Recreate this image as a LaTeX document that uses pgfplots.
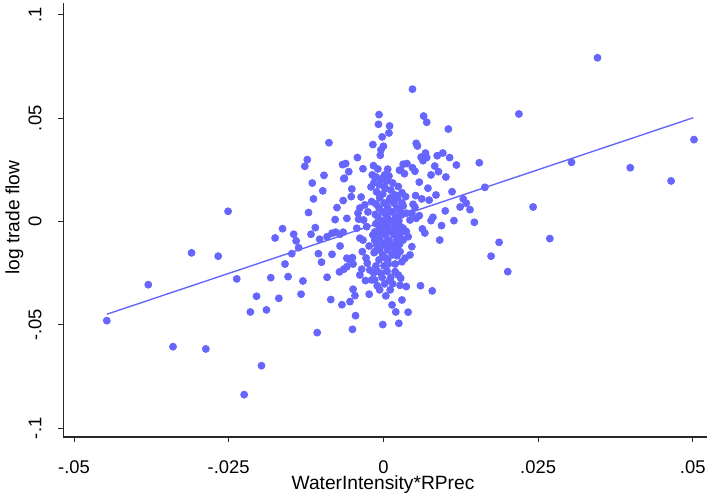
\documentclass[border=0pt]{standalone}
\usepackage{pgfplots}
\pgfplotsset{compat=1.18}
\usepackage{fontspec}
\setmainfont{Liberation Sans}
\definecolor{statablue}{RGB}{102,102,255}
\definecolor{axisgray}{RGB}{40,40,40}

\begin{document}
\begin{tikzpicture}
\path[use as bounding box] (-31.75pt,-30pt) rectangle (321.75pt,218.5pt);
\begin{axis}[
    at={(0,0)}, anchor=south west,
    scale only axis,
    width=321.75pt, height=217pt,
    xmin=-0.0517, xmax=0.0523,
    ymin=-0.1042, ymax=0.1058,
    axis x line*=bottom, axis y line*=left,
    axis line style={axisgray, line width=0.6pt},
    xtick={-0.05,-0.025,0,0.025,0.05},
    xticklabels={-.05,-.025,0,.025,.05},
    ytick={-0.1,-0.05,0,0.05,0.1},
    yticklabels={-.1,-.05,0,.05,.1},
    xtick pos=left, ytick pos=left,
    tick align=outside,
    major tick length=2.5pt,
    tick style={axisgray, line width=0.5pt},
    xticklabel style={anchor=center, yshift=-12.5pt, font=\fontsize{9.2}{11}\selectfont},
    yticklabel style={rotate=90, anchor=center, yshift=11.75pt, font=\fontsize{9.2}{11}\selectfont},
    xlabel={WaterIntensity*RPrec},
    ylabel={log trade flow},
    xlabel style={at={(axis description cs:0.4965,0)}, anchor=center, yshift=-24pt, font=\fontsize{9.6}{11}\selectfont},
    ylabel style={at={(axis description cs:0,0.505)}, anchor=center, yshift=24.5pt, font=\fontsize{9.6}{11}\selectfont},
    clip=false,
]
\addplot[only marks, mark=*, mark size=1.75pt, color=statablue] coordinates {
(-0.0251,0.0050) (-0.0163,-0.0034) (-0.0175,-0.0079) (-0.0310,-0.0151)
(-0.0267,-0.0167) (-0.0159,-0.0205) (-0.0380,-0.0305) (-0.0237,-0.0277)
(-0.0182,-0.0271) (-0.0154,-0.0266) (-0.0205,-0.0361) (-0.0169,-0.0371)
(-0.0215,-0.0437) (-0.0189,-0.0427) (-0.0447,-0.0479) (-0.0340,-0.0605)
(-0.0287,-0.0616) (-0.0197,-0.0697) (-0.0225,-0.0837)
(0.0346,0.0793) (0.0219,0.0521) (0.0502,0.0397) (0.0155,0.0285)
(0.0304,0.0287) (0.0399,0.0261) (0.0465,0.0197) (0.0164,0.0166)
(0.0242,0.0071) (0.0129,0.0110) (0.0134,0.0089) (0.0124,0.0071)
(0.0140,0.0058) (0.0147,-0.0003) (0.0269,-0.0082) (0.0187,-0.0100)
(0.0174,-0.0167) (0.0201,-0.0242)
(-0.0088,0.0382) (-0.0123,0.0300) (-0.0127,0.0268) (-0.0096,0.0224)
(-0.0066,0.0276) (-0.0064,0.0208)
(-0.0007,0.0518) (-0.0008,0.0471) (0.0010,0.0463) (0.0009,0.0429)
(-0.0002,0.0410) (-0.0017,0.0373) (0.0000,0.0365) (-0.0004,0.0347)
(-0.0005,0.0321) (-0.0042,0.0310) (-0.0061,0.0281) (-0.0056,0.0242)
(-0.0033,0.0256) (-0.0016,0.0271) (-0.0009,0.0255) (0.0007,0.0254)
(0.0026,0.0249) (-0.0018,0.0226) (0.0002,0.0226) (0.0007,0.0211)
(-0.0001,0.0202) (-0.0063,0.0210) (0.0032,0.0278)
(0.0047,0.0641) (0.0065,0.0511) (0.0070,0.0481) (0.0105,0.0448)
(0.0053,0.0379) (0.0055,0.0366) (0.0068,0.0332) (0.0061,0.0312)
(0.0070,0.0310) (0.0064,0.0295) (0.0087,0.0319) (0.0096,0.0332)
(0.0107,0.0310) (0.0038,0.0281) (0.0047,0.0261) (0.0051,0.0244)
(0.0083,0.0269) (0.0118,0.0274) (0.0089,0.0242) (0.0028,0.0249)
(0.0034,0.0232) (0.0077,0.0226) (0.0101,0.0216)
(-0.0115,0.0187) (-0.0098,0.0149) (-0.0113,0.0110) (-0.0065,0.0102)
(-0.0075,0.0068) (-0.0121,0.0044) (-0.0078,0.0010) (-0.0110,-0.0029)
(-0.0145,-0.0061) (-0.0117,-0.0061) (-0.0141,-0.0093) (-0.0103,-0.0085)
(-0.0091,-0.0073) (-0.0083,-0.0056) (-0.0077,-0.0051) (-0.0070,-0.0061)
(-0.0065,-0.0051) (-0.0137,-0.0126) (-0.0148,-0.0155) (-0.0105,-0.0155)
(-0.0083,-0.0158) (-0.0070,-0.0118) (-0.0100,-0.0196)
(-0.0051,0.0158) (-0.0052,0.0121) (-0.0036,0.0119) (-0.0019,0.0097)
(-0.0059,0.0016) (-0.0041,0.0041) (-0.0040,0.0012) (-0.0038,0.0066)
(-0.0043,-0.0032) (-0.0038,-0.0080) (-0.0027,-0.0024) (-0.0017,-0.0064)
(-0.0014,-0.0090) (-0.0034,-0.0145) (-0.0014,-0.0145) (-0.0050,-0.0174)
(-0.0059,-0.0177)
(0.0058,0.0191) (0.0072,0.0162) (0.0085,0.0129) (0.0111,0.0145)
(0.0036,0.0121) (0.0052,0.0126) (0.0062,0.0110) (0.0074,0.0104)
(0.0048,0.0084) (0.0051,0.0070) (0.0032,0.0076) (0.0029,0.0032)
(0.0037,0.0041) (0.0058,0.0029) (0.0046,0.0041) (0.0053,0.0016)
(0.0043,0.0008) (0.0100,0.0052) (0.0080,0.0021) (0.0077,0.0005)
(0.0114,0.0005) (0.0094,-0.0019) (0.0063,-0.0035) (0.0067,-0.0055)
(0.0091,-0.0089)
(0.0032,-0.0032) (0.0037,-0.0048) (0.0027,-0.0061) (0.0040,-0.0073)
(0.0032,-0.0089) (0.0046,-0.0121) (0.0043,-0.0161) (0.0035,-0.0177)
(0.0027,-0.0145)
(-0.0130,-0.0287) (-0.0091,-0.0269) (-0.0071,-0.0243) (-0.0064,-0.0230)
(-0.0133,-0.0351) (-0.0085,-0.0377) (-0.0067,-0.0402) (-0.0107,-0.0537)
(-0.0054,-0.0185) (-0.0049,-0.0205) (-0.0059,-0.0218) (-0.0026,-0.0201)
(-0.0035,-0.0230) (-0.0022,-0.0234) (-0.0016,-0.0247) (-0.0004,-0.0250)
(-0.0038,-0.0258) (-0.0029,-0.0285) (-0.0019,-0.0282) (-0.0014,-0.0282)
(0.0008,-0.0205) (0.0019,-0.0205) (0.0030,-0.0194) (0.0019,-0.0242)
(0.0024,-0.0258) (0.0012,-0.0269) (0.0028,-0.0274) (0.0027,-0.0308)
(-0.0049,-0.0327) (-0.0046,-0.0358) (-0.0023,-0.0351) (-0.0054,-0.0387)
(0.0030,-0.0379) (-0.0045,-0.0455) (-0.0001,-0.0498) (0.0025,-0.0492)
(-0.0050,-0.0521)
(0.0037,-0.0314) (0.0060,-0.0310) (0.0079,-0.0335) (0.0040,-0.0438)
(-0.0012,0.0216) (-0.0004,0.0207) (0.0006,0.0197) (0.0015,0.0187)
(-0.0007,0.0178) (0.0002,0.0168) (0.0012,0.0153) (-0.0011,0.0144)
(-0.0001,0.0134) (0.0019,0.0129) (-0.0020,0.0168) (0.0009,0.0221)
(-0.0006,0.0115) (0.0011,0.0115) (0.0023,0.0115)
(0.0001,0.0090) (0.0017,0.0090) (0.0030,0.0090)
(-0.0007,0.0066) (0.0007,0.0066) (0.0022,0.0066)
(-0.0001,0.0047) (0.0014,0.0047) (0.0027,0.0047)
(-0.0009,0.0023) (0.0006,0.0023) (0.0020,0.0023)
(-0.0002,0.0003) (0.0012,0.0003) (0.0025,0.0003)
(0.0004,-0.0021) (0.0019,-0.0021) (-0.0007,-0.0021)
(-0.0004,-0.0040) (0.0011,-0.0040) (0.0023,-0.0040)
(0.0002,-0.0064) (0.0017,-0.0064) (-0.0009,-0.0064)
(-0.0006,-0.0089) (0.0009,-0.0089) (0.0022,-0.0089)
(0.0001,-0.0113) (0.0015,-0.0113) (-0.0011,-0.0113)
(0.0007,-0.0137) (-0.0006,-0.0137) (0.0020,-0.0137)
(-0.0001,-0.0161) (0.0014,-0.0161)
(-0.0007,-0.0185) (0.0007,-0.0185)
(0.0001,-0.0214) (-0.0012,-0.0214)
(0.0002,-0.0301) (0.0015,-0.0301)
(-0.0006,-0.0330) (0.0011,-0.0330)
(0.0004,-0.0359) (0.0014,-0.0403) (0.0020,-0.0437)
(-0.0030,0.0081) (-0.0025,0.0047) (-0.0032,0.0008) (-0.0023,-0.0118)
(-0.0028,-0.0176) (-0.0033,-0.0089)
(0.0003,0.0160) (-0.0015,0.0190) (0.0024,0.0170) (0.0030,0.0140)
(-0.0012,0.0085) (0.0009,0.0100) (0.0026,0.0060) (-0.0013,0.0035)
(0.0004,0.0035) (0.0019,0.0012) (-0.0012,-0.0010) (0.0008,-0.0008)
(0.0028,-0.0025) (-0.0014,-0.0050) (0.0006,-0.0052) (0.0025,-0.0075)
(-0.0012,-0.0075) (0.0004,-0.0100) (0.0026,-0.0110) (-0.0015,-0.0150)
(0.0010,-0.0125) (0.0003,-0.0175) (0.0022,-0.0165) (-0.0010,-0.0240)
(0.0006,-0.0240) (-0.0002,-0.0270) (0.0010,-0.0285) (-0.0010,-0.0310)
};
% fitted values
\addplot[color=statablue, line width=0.7pt, no marks] coordinates {
(-0.0447,-0.0448) (0.0501,0.0503)
};
\end{axis}
\end{tikzpicture}
\end{document}
